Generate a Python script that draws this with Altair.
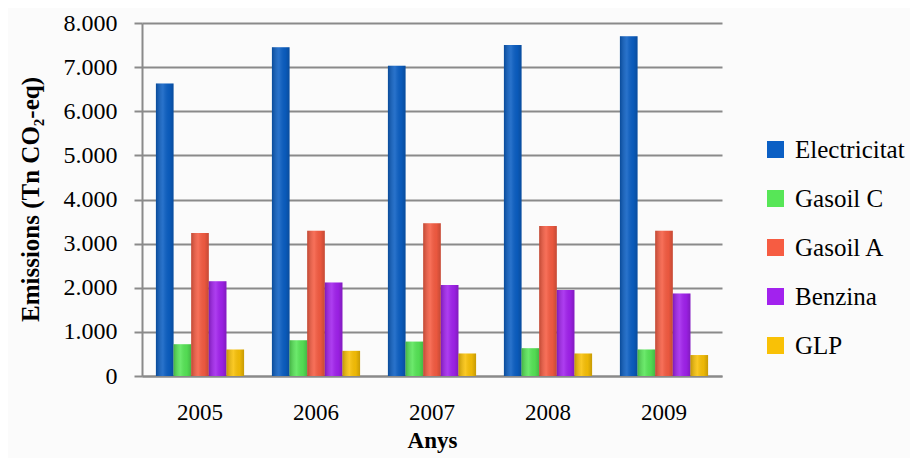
import altair as alt
import pandas as pd

years = ["2005", "2006", "2007", "2008", "2009"]
series = ["Electricitat", "Gasoil C", "Gasoil A", "Benzina", "GLP"]
electricitat = [6630, 7450, 7030, 7500, 7700]
gasoil_c = [720, 810, 780, 630, 600]
gasoil_a = [3240, 3290, 3460, 3400, 3290]
benzina = [2150, 2120, 2060, 1950, 1870]
glp = [600, 570, 510, 510, 475]
colors = ["#0b5fc4", "#57e657", "#f65c42", "#a222ee", "#f9c106"]

values = [electricitat, gasoil_c, gasoil_a, benzina, glp]
rows = []
for s, vals in zip(series, values):
    for y, v in zip(years, vals):
        rows.append({"Any": y, "Serie": s, "Valor": v})
df = pd.DataFrame(rows)

FONT = "Liberation Serif"

x = alt.X("Any:N", sort=years,
          scale=alt.Scale(paddingInner=0.24, paddingOuter=0.12),
          axis=alt.Axis(title="Anys", labelAngle=0, ticks=False,
                        labelPadding=25, labelFontSize=23, labelFont=FONT,
                        labelColor="#000000", domainColor="#8a8a8a", domainWidth=2,
                        titleFont=FONT, titleFontSize=23, titleFontWeight="bold",
                        titleColor="#000000", titleY=64, titleBaseline="middle"))
y = alt.Y("Valor:Q",
          scale=alt.Scale(domain=[0, 8000], nice=False),
          axis=alt.Axis(title="Emissions (Tn CO₂-eq)", values=list(range(0, 8001, 1000)),
                        labelExpr="replace(format(datum.value, ','), ',', '.')",
                        labelFontSize=24, labelFont=FONT, labelColor="#000000",
                        labelPadding=17, tickSize=8, tickColor="#8a8a8a", tickWidth=2,
                        domainColor="#8a8a8a", domainWidth=2,
                        gridColor="#8a8a8a", gridWidth=2,
                        titleFont=FONT, titleFontSize=25, titleFontWeight="bold",
                        titleColor="#000000", titleAngle=-90, titleX=-112, titleY=176,
                        titleAlign="center", titleBaseline="middle"))
xo = alt.XOffset("Serie:N", sort=series)

bars = alt.Chart(df).mark_bar(strokeWidth=0).encode(
    x=x, y=y, xOffset=xo,
    color=alt.Color("Serie:N", sort=series,
                    scale=alt.Scale(domain=series, range=colors),
                    legend=alt.Legend(title=None, orient="none", legendX=621, legendY=114,
                                      symbolType="square", symbolSize=289,
                                      symbolStrokeWidth=0, labelFont=FONT,
                                      labelFontSize=25, labelColor="#000000",
                                      labelOffset=7, rowPadding=23, padding=0)),
)

shade = alt.Chart(df).mark_bar(
    fill=alt.Gradient(
        gradient="linear", x1=0, x2=1, y1=0, y2=0,
        stops=[alt.GradientStop(color="rgba(0,0,0,0.22)", offset=0),
               alt.GradientStop(color="rgba(255,255,255,0.12)", offset=0.4),
               alt.GradientStop(color="rgba(0,0,0,0.05)", offset=0.75),
               alt.GradientStop(color="rgba(0,0,0,0.2)", offset=1)]),
    strokeWidth=0,
).encode(x=x, y=y, xOffset=xo)

chart = alt.layer(bars, shade).properties(
    width=580, height=353,
    autosize=alt.AutoSizeParams(type="none"),
    padding={"left": 134, "top": 15, "right": 188, "bottom": 82},
    background="#fbfbfb",
).configure_view(stroke=None)

chart.save("out.html", embed_options={"renderer": "svg", "actions": False})
